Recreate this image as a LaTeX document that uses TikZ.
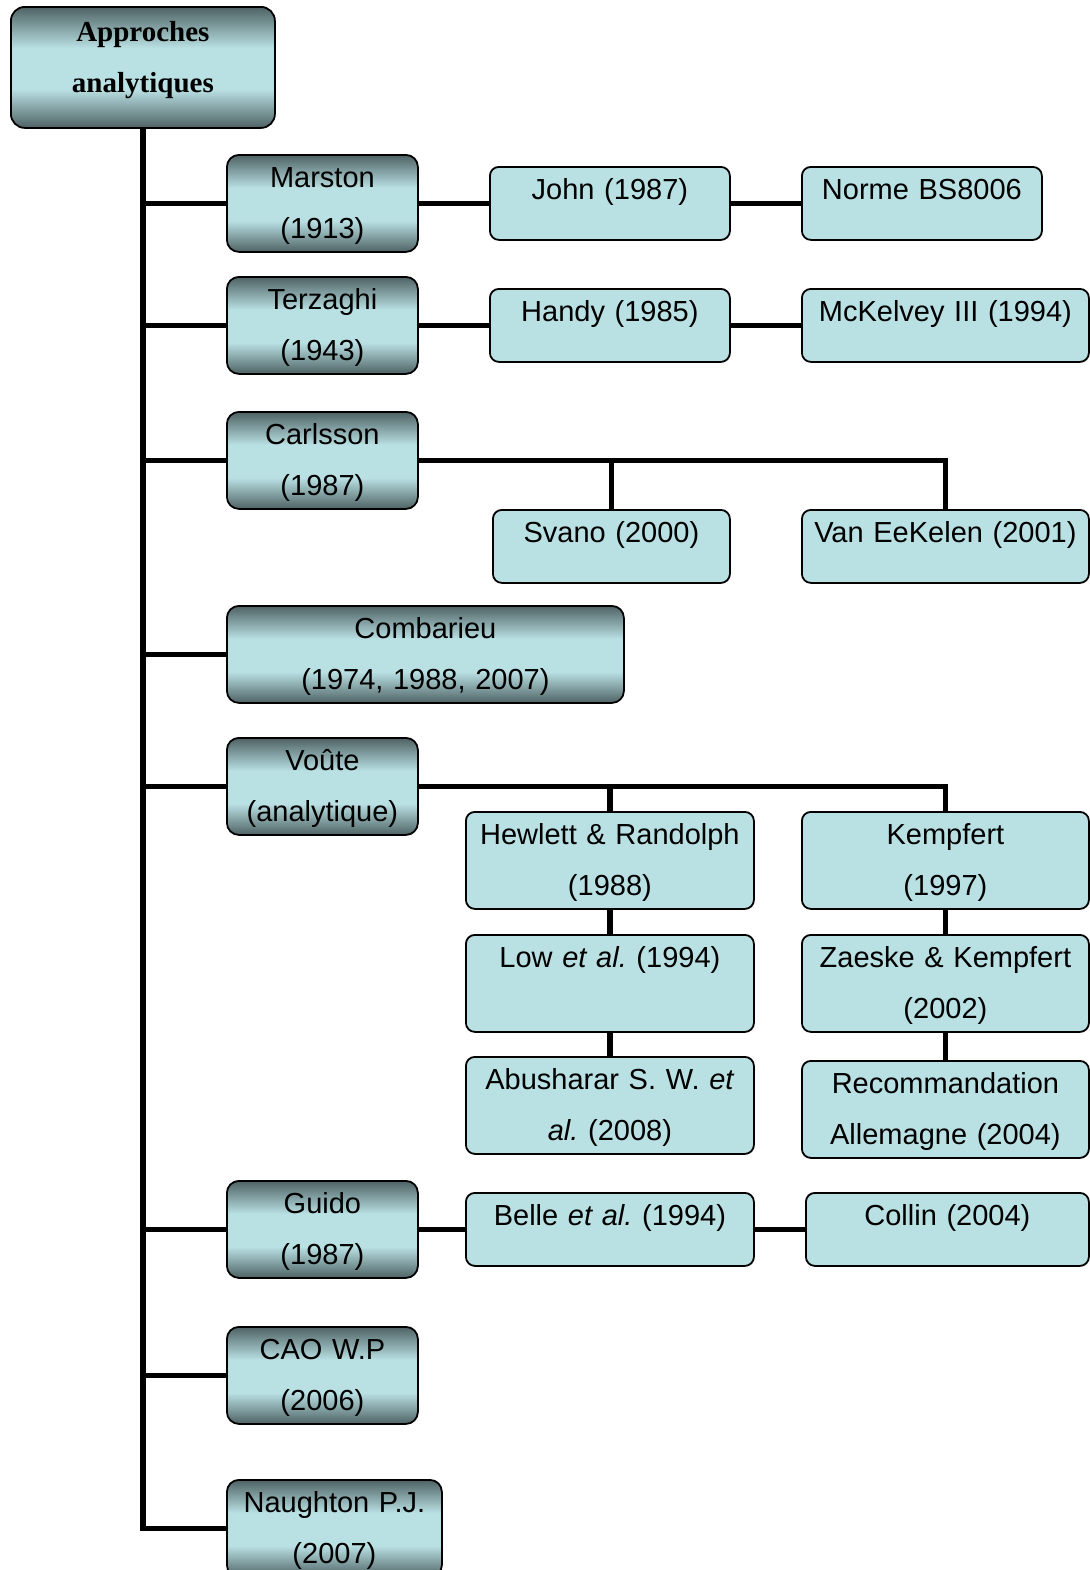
\documentclass[tikz,border=0pt]{standalone}
\usepackage{fontspec}
\setmainfont{Liberation Sans}
\newfontfamily\rootfont{Liberation Serif}
\usepackage{tikz}
\usetikzlibrary{positioning}
\frenchspacing

\definecolor{boxdark}{RGB}{78,98,100}
\definecolor{boxlight}{RGB}{185,224,227}
\pgfdeclareverticalshading{tealbar}{100bp}{color(0bp)=(boxdark); color(25bp)=(boxdark); color(41bp)=(boxlight); color(58bp)=(boxlight); color(75bp)=(boxdark); color(100bp)=(boxdark)}

\begin{document}
\begin{tikzpicture}[
		x=0.5pt, y=-0.5pt, % coordinates in pixels of the original figure
		font=\fontsize{14.5}{25.5}\selectfont,
		base/.style={
				draw,
				line width=0.9pt,
				anchor=north west,
				inner sep=0pt,
				align=center,
				text height=16.5pt
			},
		author/.style={
				base,
				rounded corners=6pt,
				shading=tealbar,
				minimum height=48.5pt,
				text depth=32pt
			},
		work/.style={
				base,
				rounded corners=4.5pt,
				fill=boxlight,
				minimum height=36.5pt,
				text depth=20pt
			},
		worktall/.style={
				work,
				minimum height=48.5pt,
				text depth=32pt
			},
		link/.style={
				line width=2.7pt
			}
	]
	\useasboundingbox (0,0) rectangle (1090,1570);

	% Nodes
	\node[base, rounded corners=7pt, shading=tealbar, text width=132pt, minimum height=60.5pt, text height=17.5pt, text depth=43pt, font=\rootfont\bfseries\fontsize{14.5}{25.5}\selectfont] (root) at (10,6) {Approches\\analytiques};

	\node[author, text width=95.5pt] (marston) at (226,154) {Marston\\(1913)};
	\node[author, text width=95.5pt] (terzaghi) at (226,276) {Terzaghi\\(1943)};
	\node[author, text width=95.5pt] (carlsson) at (226,411) {Carlsson\\(1987)};
	\node[author, text width=198.5pt] (combarieu) at (226,605) {Combarieu\\(1974, 1988, 2007)};
	\node[author, text width=95.5pt] (voute) at (226,737) {Voûte\\(analytique)};
	\node[author, text width=95.5pt] (guido) at (226,1180) {Guido\\(1987)};
	\node[author, text width=95.5pt] (cao) at (226,1326) {CAO W.P\\(2006)};
	\node[author, text width=107.5pt] (naughton) at (226,1479) {Naughton P.J.\\(2007)};

	\node[work, text width=120pt] (john) at (489,166) {John (1987)};
	\node[work, text width=120pt] (norme) at (801,166) {Norme BS8006};
	\node[work, text width=120pt] (handy) at (489,288) {Handy (1985)};
	\node[work, text width=143.5pt] (mckelvey) at (801,288) {McKelvey III (1994)};
	\node[work, text width=118.5pt] (svano) at (492,509) {Svano (2000)};
	\node[work, text width=143.5pt] (vaneekelen) at (801,509) {Van EeKelen (2001)};

	\node[worktall, text width=144pt] (hewlett) at (465,811) {Hewlett \& Randolph\\(1988)};
	\node[worktall, text width=143.5pt] (kempfert) at (801,811) {Kempfert\\(1997)};
	\node[worktall, text width=144pt] (low) at (465,934) {Low \textit{et al.} (1994)};
	\node[worktall, text width=143.5pt] (zaeske) at (801,934) {Zaeske \& Kempfert\\(2002)};
	\node[worktall, text width=144pt] (abusharar) at (465,1056) {Abusharar S. W. \textit{et}\\\textit{al.} (2008)};
	\node[worktall, text width=143.5pt] (recommandation) at (801,1060) {Recommandation\\Allemagne (2004)};

	\node[work, text width=144pt] (belle) at (465,1192) {Belle \textit{et al.} (1994)};
	\node[work, text width=141.5pt] (collin) at (805,1192) {Collin (2004)};

	% Paths
	\draw[link] (root.south) |- (naughton.west);
	\foreach \n in {marston, terzaghi, carlsson, combarieu, voute, guido, cao}
		\draw[link] (root.south |- \n.west) -- (\n.west);

	\draw[link] (marston) -- (john);
	\draw[link] (john) -- (norme);
	\draw[link] (terzaghi) -- (handy);
	\draw[link] (handy) -- (mckelvey);

	\draw[link] (carlsson.east) -| (vaneekelen.north);
	\draw[link] (svano.north) -- (svano.north |- carlsson.east);

	\draw[link] (voute.east) -| (kempfert.north);
	\draw[link] (hewlett.north) -- (hewlett.north |- voute.east);
	\draw[link] (hewlett) -- (low);
	\draw[link] (low) -- (abusharar);
	\draw[link] (kempfert) -- (zaeske);
	\draw[link] (zaeske) -- (recommandation);

	\draw[link] (guido) -- (belle);
	\draw[link] (belle) -- (collin);
\end{tikzpicture}
\end{document}
